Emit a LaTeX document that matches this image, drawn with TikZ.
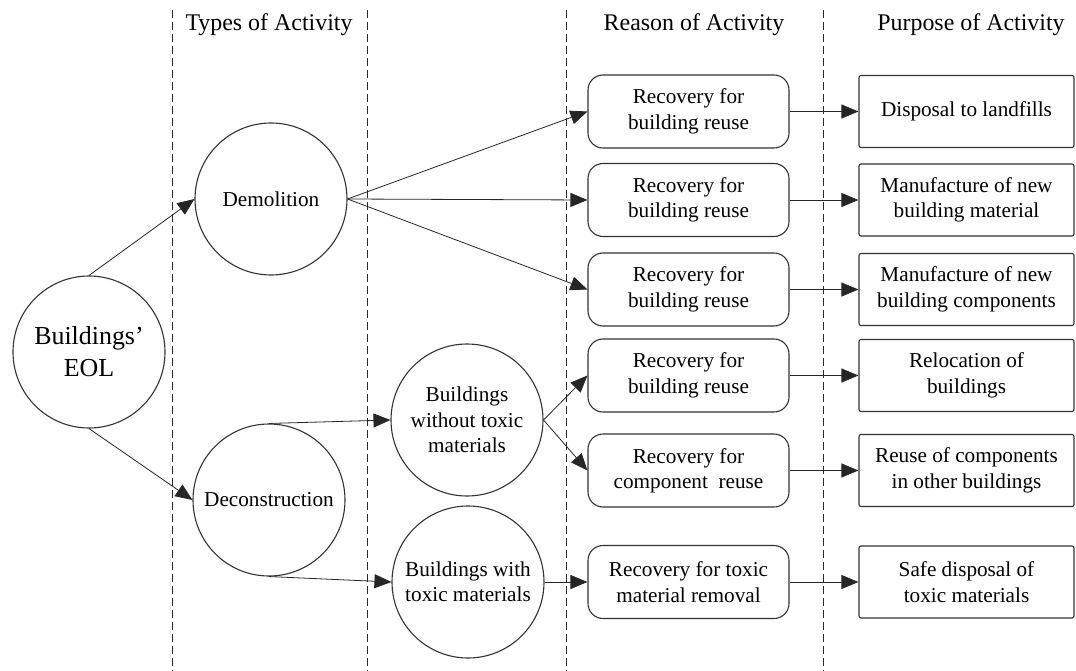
\documentclass[tikz,border=0pt]{standalone}
\usepackage{fontspec}
\setmainfont{Liberation Serif}
\usetikzlibrary{arrows.meta}
\begin{document}
\begin{tikzpicture}[x=1bp,y=-1bp,
  font=\fontsize{21.3}{25.5}\selectfont,
  header/.style={font=\fontsize{24}{28}\selectfont, anchor=base},
  lane/.style={draw=black!85, line width=0.8bp, dash pattern=on 8bp off 4bp},
  stage/.style={circle, draw=black!80, line width=1.1bp, minimum size=152bp, inner sep=0pt, align=center},
  reason/.style={draw=black!80, line width=1.1bp, rounded corners=15bp, minimum width=201bp, minimum height=73bp, inner sep=0pt, align=center},
  purpose/.style={draw=black!80, line width=1.1bp, rounded corners=2bp, minimum width=215bp, minimum height=72bp, inner sep=0pt, align=center},
  flow/.style={draw=black!85, line width=0.8bp, -{Triangle[length=17bp,width=14bp]}}
]
\useasboundingbox (0,0) rectangle (1076,671);

% column separators
\draw[lane] (172,10) -- (172,671);
\draw[lane] (367,10) -- (367,671);
\draw[lane] (566,10) -- (566,671);
\draw[lane] (823,10) -- (823,671);

% column headings
\node[header] (hTypes) at (269,31) {Types of Activity};
\node[header] (hReason) at (694,31) {Reason of Activity};
\node[header] (hPurpose) at (971,31) {Purpose of Activity};

% activity circles
\node[stage, font=\fontsize{26}{32}\selectfont] (eol) at (89,352) {Buildings’\\EOL};
\node[stage] (demo) at (271,199) {Demolition};
\node[stage] (decon) at (269,500) {Deconstruction};
\node[stage] (free) at (467,420) {Buildings\\without toxic\\materials};
\node[stage] (toxic) at (468,582) {Buildings with\\toxic materials};

% reasons
\node[reason] (r1) at (688.5,111.5) {Recovery for\\building reuse};
\node[reason] (r2) at (688.5,200) {Recovery for\\building reuse};
\node[reason] (r3) at (688.5,289.5) {Recovery for\\building reuse};
\node[reason] (r4) at (688.5,375.5) {Recovery for\\building reuse};
\node[reason] (r5) at (688.5,470.5) {Recovery for\\component\ \ reuse};
\node[reason] (r6) at (688.5,582) {Recovery for toxic\\material removal};

% purposes
\node[purpose] (p1) at (966.5,111.5) {Disposal to landfills};
\node[purpose] (p2) at (966.5,200) {Manufacture of new\\building material};
\node[purpose] (p3) at (966.5,289.5) {Manufacture of new\\building components};
\node[purpose] (p4) at (966.5,375.5) {Relocation of\\buildings};
\node[purpose] (p5) at (966.5,470.5) {Reuse of components\\in other buildings};
\node[purpose] (p6) at (966.5,582) {Safe disposal of\\toxic materials};

% connectors
\draw[flow] (eol.north) -- (demo.west);
\draw[flow] (eol.south) -- (decon.west);
\draw[flow] (demo.east) -- (r1.west);
\draw[flow] (demo.east) -- (r2.west);
\draw[flow] (demo.east) -- (r3.west);
\draw[flow] (decon.north) -- (free.west);
\draw[flow] (decon.south) -- (toxic.west);
\draw[flow] (free.east) -- (r4.west);
\draw[flow] (free.east) -- (r5.west);
\draw[flow] (toxic.east) -- (r6.west);
\draw[flow] (r1.east) -- (p1.west);
\draw[flow] (r2.east) -- (p2.west);
\draw[flow] (r3.east) -- (p3.west);
\draw[flow] (r4.east) -- (p4.west);
\draw[flow] (r5.east) -- (p5.west);
\draw[flow] (r6.east) -- (p6.west);
\end{tikzpicture}
\end{document}
